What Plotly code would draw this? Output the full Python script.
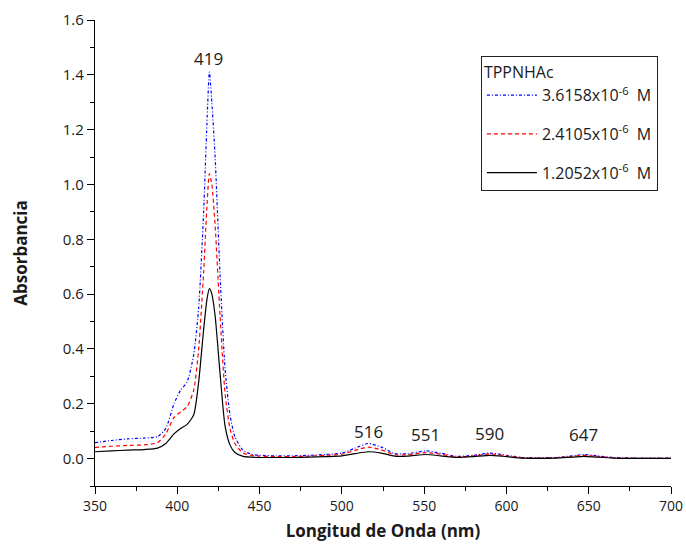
import plotly.graph_objects as go

# Wavelength grid (nm) and absorbance of each TPPNHAc solution
wavelength = [350, 360, 370, 380, 388, 393, 398, 402, 406, 410, 413, 416, 418, 419.5,
              421, 423, 426, 429, 432, 435, 440, 445, 450, 460, 470, 480, 490, 500,
              508, 516, 524, 532, 540, 551, 560, 570, 580, 590, 600, 610, 620, 630,
              640, 647, 655, 665, 680, 700]

abs_36158 = [0.058, 0.066, 0.072, 0.075, 0.080, 0.11, 0.20, 0.25, 0.28, 0.38, 0.55, 0.90,
             1.22, 1.41, 1.30, 1.10, 0.67, 0.33, 0.16, 0.08, 0.03, 0.016, 0.012, 0.010,
             0.010, 0.012, 0.015, 0.020, 0.038, 0.055, 0.042, 0.018, 0.018, 0.028, 0.020,
             0.008, 0.012, 0.020, 0.012, 0.004, 0.003, 0.004, 0.010, 0.015, 0.010, 0.004,
             0.002, 0.002]

abs_24105 = [0.041, 0.045, 0.048, 0.050, 0.058, 0.09, 0.15, 0.17, 0.19, 0.25, 0.40, 0.68,
             0.92, 1.04, 1.00, 0.85, 0.52, 0.24, 0.11, 0.055, 0.02, 0.012, 0.009, 0.007,
             0.007, 0.009, 0.012, 0.016, 0.030, 0.042, 0.032, 0.014, 0.014, 0.022, 0.016,
             0.006, 0.010, 0.017, 0.010, 0.003, 0.002, 0.003, 0.008, 0.012, 0.008, 0.003,
             0.001, 0.001]

abs_12052 = [0.025, 0.028, 0.031, 0.033, 0.038, 0.055, 0.09, 0.11, 0.125, 0.16, 0.28, 0.47,
             0.58, 0.62, 0.60, 0.52, 0.31, 0.12, 0.05, 0.022, 0.008, 0.005, 0.004, 0.004,
             0.004, 0.005, 0.007, 0.010, 0.018, 0.025, 0.020, 0.009, 0.009, 0.015, 0.010,
             0.004, 0.007, 0.012, 0.007, 0.002, 0.001, 0.002, 0.005, 0.008, 0.005, 0.002,
             0.001, 0.001]

series_names = ["3.6158x10<sup>-6</sup>  M", "2.4105x10<sup>-6</sup>  M", "1.2052x10<sup>-6</sup>  M"]

# Band maxima labels: wavelength and label height
peak_nm = [419, 516, 551, 590, 647]
peak_label_y = [1.46, 0.10, 0.087, 0.09, 0.087]

FONT = "'Open Sans', sans-serif"
INK = "#1a1a1a"

fig = go.Figure()
styles = [
    (abs_36158, "#0000ff", "3px,2px,1px,2px"),
    (abs_24105, "#ff0000", "4px,3px"),
    (abs_12052, "#000000", "solid"),
]
for i, (vals, color, dash) in enumerate(styles):
    fig.add_trace(go.Scatter(
        x=wavelength, y=vals, mode="lines", name=series_names[i],
        legendgroup=f"g{i}",
        line=dict(color=color, width=1.2, dash=dash, shape="spline", smoothing=0.6),
    ))

for nm, yv in zip(peak_nm, peak_label_y):
    fig.add_annotation(x=nm, y=yv, text=str(nm), showarrow=False,
                       font=dict(family=FONT, size=17, color=INK))

fig.update_layout(
    width=686, height=552,
    margin=dict(l=95, r=15, t=20, b=66),
    paper_bgcolor="white", plot_bgcolor="white",
    font=dict(family=FONT, size=14, color=INK),
    showlegend=True,
    legend=dict(
        x=0.670, y=0.922, xanchor="left", yanchor="top",
        bordercolor="#222222", borderwidth=1, bgcolor="white",
        title=dict(text="TPPNHAc", font=dict(size=16)),
        font=dict(size=16), itemwidth=50, tracegroupgap=15,
    ),
    xaxis=dict(
        range=[350, 700], dtick=50, tick0=350, automargin=False,
        tickfont=dict(size=14),
        showline=True, linecolor="black", linewidth=1.3,
        ticks="outside", ticklen=7, tickwidth=1.3, tickcolor="black",
        minor=dict(dtick=25, ticks="outside", ticklen=4, tickwidth=1.3, tickcolor="black"),
        showgrid=False, zeroline=False,
        title=dict(text="<b>Longitud de Onda (nm)</b>", font=dict(size=17), standoff=11),
    ),
    yaxis=dict(
        range=[-0.1, 1.6], tickvals=[0, 0.2, 0.4, 0.6, 0.8, 1.0, 1.2, 1.4, 1.6],
        tickformat=".1f", automargin=False,
        tickfont=dict(size=15),
        showline=True, linecolor="black", linewidth=1.3,
        ticks="outside", ticklen=7, tickwidth=1.3, tickcolor="black",
        minor=dict(dtick=0.1, tick0=0, ticks="outside", ticklen=4, tickwidth=1.3, tickcolor="black"),
        showgrid=False, zeroline=False,
        title=dict(text="<b>Absorbancia</b>", font=dict(size=17), standoff=30),
    ),
)

fig.write_html("out.html")
